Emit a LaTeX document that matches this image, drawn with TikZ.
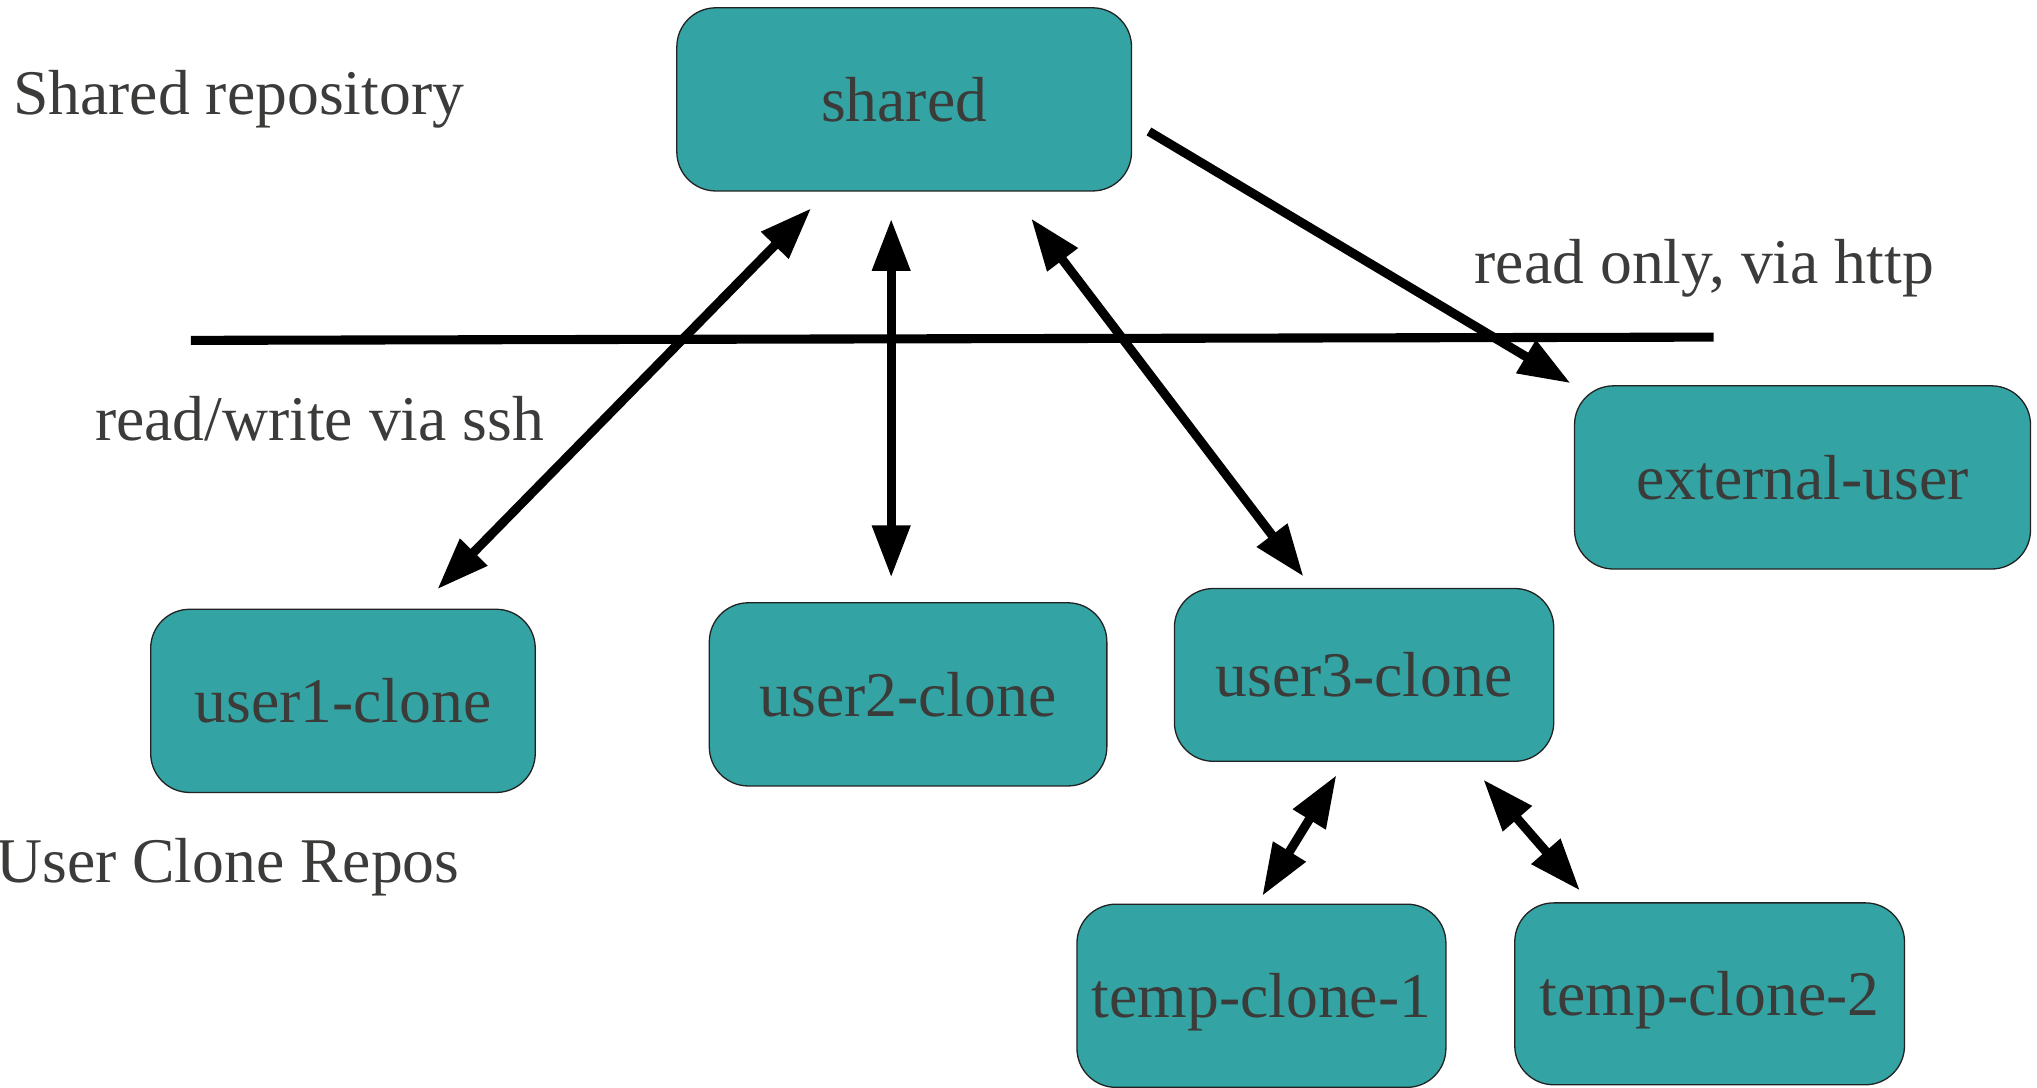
\documentclass[tikz,border=0pt]{standalone}
\usepackage{fontspec}
\setmainfont{Liberation Serif}
\usetikzlibrary{arrows.meta,calc}

\definecolor{boxfill}{HTML}{34A3A3}
\definecolor{boxedge}{HTML}{222222}
\definecolor{inktext}{HTML}{3B3B39}

\tikzset{
  repo/.style={draw=boxedge, line width=1pt, fill=boxfill, rounded corners=30pt,
    inner sep=0pt, text=inktext, font=\fontsize{49}{58}\selectfont,
    text height=34pt, text depth=0pt, anchor=center},
  caption/.style={inner sep=0pt, text=inktext, font=\fontsize{49}{58}\selectfont,
    anchor=base west},
  link/.style={line width=7pt, draw=black,
    arrows={Triangle[length=40pt,width=28pt]-Triangle[length=40pt,width=28pt]}},
  oneway/.style={line width=7pt, draw=black, -{Triangle[length=40pt,width=28pt]}},
  divider/.style={line width=7pt, draw=black}
}

\begin{document}
\begin{tikzpicture}[x=1pt,y=-1pt]
  \useasboundingbox (0,0) rectangle (1568,837);

  % repositories
  \node[repo, minimum width=350pt, minimum height=141pt] (shared)   at (696,76.5)   {shared};
  \node[repo, minimum width=351pt, minimum height=141pt] (external) at (1387.5,367.5) {external-user};
  \node[repo, minimum width=296pt, minimum height=141pt] (user1)    at (264,539.5)  {user1-clone};
  \node[repo, minimum width=306pt, minimum height=141pt] (user2)    at (699,534.5)  {user2-clone};
  \node[repo, minimum width=292pt, minimum height=133pt] (user3)    at (1050,519.5) {user3-clone};
  \node[repo, minimum width=284pt, minimum height=141pt] (temp1)    at (971,766.5)  {temp-clone-1};
  \node[repo, minimum width=300pt, minimum height=140pt] (temp2)    at (1316,765)   {temp-clone-2};

  % captions
  \node[caption] (capshared) at (10,88)   {Shared repository};
  \node[caption] (caphttp)   at (1135,218) {read only, via http};
  \node[caption] (capssh)    at (73,339)  {read/write via ssh};
  \node[caption] (capusers)  at (-3,679)  {User Clone Repos};

  % boundary between the shared server and the clients
  \coordinate (divL) at (147,262);
  \coordinate (divR) at (1319,259.5);
  \draw[divider] (divL) -- (divR);

  % access paths
  \draw[link, shorten <=18pt, shorten >=21pt]
    ([xshift=-59pt]shared.south) -- ([xshift=58pt]user1.north);
  \draw[link, shorten <=21pt, shorten >=19pt]
    ([xshift=-10pt]shared.south) -- ([xshift=-13pt]user2.north);
  \draw[link, shorten <=26pt, shorten >=11pt]
    ([xshift=82pt]shared.south) -- ([xshift=-40pt]user3.north);
  \draw[oneway, shorten <=15pt, shorten >=3pt]
    ([yshift=-17pt]shared.east) -- (external.north west);
  \draw[link, shorten <=12pt, shorten >=7pt]
    ([xshift=-15pt]user3.south) -- ([xshift=-3pt]temp1.north);
  \draw[link, shorten <=18pt, shorten >=12pt]
    ([xshift=80pt]user3.south) -- ([xshift=-92pt]temp2.north);
\end{tikzpicture}
\end{document}
